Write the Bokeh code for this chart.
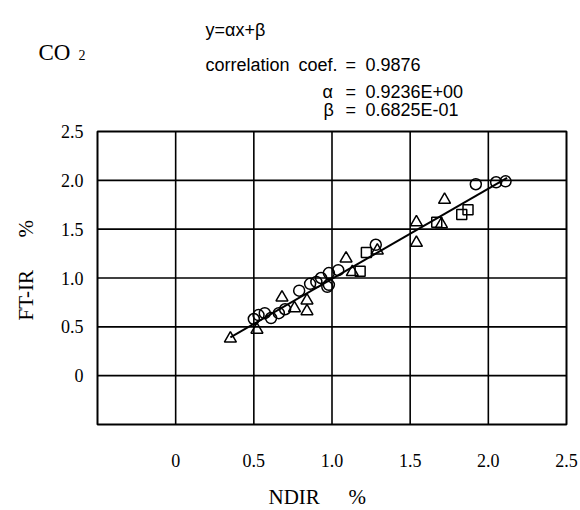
from bokeh.plotting import figure
from bokeh.models import Range1d
from bokeh.core.properties import value
from bokeh.embed import file_html
from bokeh.resources import INLINE
import math

# ---- data ----
circle_x = [0.50, 0.53, 0.57, 0.61, 0.66, 0.70, 0.79, 0.86, 0.90, 0.93, 0.97, 0.98, 0.98, 1.04, 1.28, 1.92, 2.05, 2.11]
circle_y = [0.58, 0.62, 0.64, 0.59, 0.64, 0.68, 0.87, 0.94, 0.96, 1.00, 0.91, 0.93, 1.05, 1.08, 1.34, 1.96, 1.98, 1.99]

triangle_x = [0.35, 0.52, 0.68, 0.76, 0.84, 0.84, 1.09, 1.13, 1.29, 1.54, 1.54, 1.70, 1.72]
triangle_y = [0.38, 0.47, 0.80, 0.69, 0.77, 0.66, 1.20, 1.06, 1.28, 1.57, 1.36, 1.55, 1.80]

square_x = [1.18, 1.22, 1.67, 1.83, 1.87]
square_y = [1.07, 1.26, 1.57, 1.65, 1.70]

alpha = 0.9236
beta = 0.06825
fit_x = [0.35, 2.12]
fit_y = [alpha * v + beta for v in fit_x]

ticks = [0, 0.5, 1.0, 1.5, 2.0, 2.5]
tick_labels = ["0", "0.5", "1.0", "1.5", "2.0", "2.5"]
axis_min, axis_max = -0.5, 2.5

# ---- layout: frame fills canvas, plot box drawn in data space ----
W, H = 580, 510
BL, BR, BT, BB = 97, 566, 131, 424  # plot box edges in canvas px
xs = (BR - BL) / (axis_max - axis_min)
ys = (BB - BT) / (axis_max - axis_min)
x0 = axis_min - BL / xs
x1 = axis_max + (W - BR) / xs
y1 = axis_max + BT / ys
y0 = axis_min - (H - BB) / ys

def dx(px):
    return axis_min + (px - BL) / xs

def dy(py):
    return axis_min + (BB - py) / ys

p = figure(width=W, height=H, output_backend="svg", toolbar_location=None,
           x_range=Range1d(x0, x1), y_range=Range1d(y0, y1),
           min_border=0, min_border_left=0, min_border_right=0,
           min_border_top=0, min_border_bottom=0)
p.axis.visible = False
p.grid.visible = False
p.outline_line_color = None
p.background_fill_color = "white"
p.border_fill_color = "white"

serif = "Liberation Serif"
sans = "Liberation Sans"

# grid lines
inner = [t for t in ticks if axis_min < t < axis_max]
p.segment(x0=inner, y0=[axis_min] * len(inner), x1=inner, y1=[axis_max] * len(inner),
          line_color="black", line_width=1.6)
p.segment(x0=[axis_min] * len(inner), y0=inner, x1=[axis_max] * len(inner), y1=inner,
          line_color="black", line_width=1.6)
# box
p.quad(left=[axis_min], right=[axis_max], bottom=[axis_min], top=[axis_max],
       fill_color=None, line_color="black", line_width=2)

# tick labels
p.text(x=ticks, y=[dy(460)] * len(ticks), text=tick_labels,
       text_font=value(serif), text_font_size="18px", text_align="center",
       text_baseline="alphabetic", text_color="black")
p.text(x=[dx(83)] * len(ticks), y=ticks, text=tick_labels,
       text_font=value(serif), text_font_size="18px", text_align="right",
       text_baseline="middle", text_color="black")

# regression line
p.line(fit_x, fit_y, line_color="black", line_width=2)

# markers
p.scatter(circle_x, circle_y, marker="circle", size=11, fill_color=None,
          line_color="black", line_width=1.5)
p.scatter(triangle_x, triangle_y, marker="triangle", size=12, fill_color=None,
          line_color="black", line_width=1.5)
p.scatter(square_x, square_y, marker="square", size=10, fill_color=None,
          line_color="black", line_width=1.5)

def add_text(txt, px, py, font, size, angle=0.0, align="left"):
    p.text(x=[dx(px)], y=[dy(py)], text=[txt], text_font=value(font),
           text_font_size=size, text_color="black", text_align=align,
           text_baseline="alphabetic", angle=angle)

# title block
add_text("CO", 38, 52, serif, "23px")
add_text("2", 78, 54, serif, "14px")
add_text("y=αx+β", 205, 29, sans, "18px")
add_text("correlation", 205, 64, sans, "18px")
add_text("coef.", 298, 64, sans, "18px")
add_text("=", 345, 64, sans, "18px")
add_text("0.9876", 365, 64, sans, "18px")
add_text("α", 322, 91, sans, "18px")
add_text("=", 345, 91, sans, "18px")
add_text("0.9236E+00", 365, 91, sans, "18px")
add_text("β", 323, 109, sans, "18px")
add_text("=", 345, 109, sans, "18px")
add_text("0.6825E-01", 365, 109, sans, "18px")

# axis titles
add_text("NDIR", 268, 496, serif, "21px")
add_text("%", 348, 496, serif, "21px")
add_text("FT-IR", 25, 320, serif, "21px", angle=math.pi / 2)
add_text("%", 25, 237, serif, "21px", angle=math.pi / 2)

open("out.html", "w").write(file_html(p, INLINE))
